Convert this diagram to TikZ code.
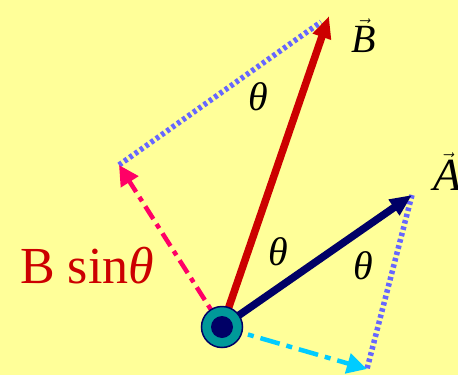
\documentclass[tikz,border=0pt]{standalone}
\usepackage{fontspec}
\setmainfont{Liberation Serif}
\usetikzlibrary{arrows.meta, positioning}
\definecolor{paleyellow}{RGB}{255, 255, 153}
\definecolor{vecred}{RGB}{204, 0, 0}
\definecolor{vecnavy}{RGB}{0, 0, 102}
\definecolor{projpink}{RGB}{255, 0, 102}
\definecolor{projcyan}{RGB}{0, 204, 255}
\definecolor{dotblue}{RGB}{102, 102, 255}
\definecolor{axisteal}{RGB}{0, 153, 153}

\tikzset{
  vecline/.style={line width=7.5pt, -{Triangle[length=22pt, width=18pt]}},
  projline/.style={line width=4.5pt, -{Triangle[length=20pt, width=20pt]}},
  dotline/.style={dotblue, line width=5.5pt, dash pattern=on 3.5pt off 3pt},
  anglabel/.style={font=\fontsize{40}{40}\selectfont\itshape},
}

\begin{document}
\begin{tikzpicture}[x=1pt, y=-1pt]
  % 背景与画幅 458x375
  \fill[paleyellow] (0, 0) rectangle (458, 375);
  \useasboundingbox (0, 0) rectangle (458, 375);

  % 关键点
  \coordinate (O) at (222, 327);
  \coordinate (Btip) at (329, 16);
  \coordinate (Atip) at (412, 195);
  \coordinate (Bperp) at (119, 165);
  \coordinate (Apar) at (367, 369);

  % 虚线投影框
  \draw[dotline] (Bperp) -- (321, 22);
  \draw[dotline] (Atip) -- (Apar);

  % 投影分量
  \draw[projline, projpink, dash pattern=on 15pt off 6pt on 5pt off 6pt] (O) -- (Bperp);
  \draw[projline, projcyan, dash pattern=on 20pt off 7pt on 6pt off 7pt] (O) -- (Apar);

  % 矢量 A、B
  \draw[vecline, vecred] (O) -- (Btip);
  \draw[vecline, vecnavy] (O) -- (Atip);

  % 转轴
  \node[circle, fill=axisteal, draw=vecnavy, line width=1.5pt, minimum size=41pt, inner sep=0pt] (axis) at (O) {};
  \node[circle, fill=vecnavy, minimum size=22pt, inner sep=0pt] (axiscore) at (O) {};

  % 标注
  \node[anglabel] (thtop) at (258, 97) {θ};
  \node[anglabel] (thmid) at (278, 252) {θ};
  \node[anglabel] (thright) at (363, 266) {θ};
  \node[vecred, anchor=base west, inner sep=0pt, font=\fontsize{52}{52}\selectfont] (bsin) at (20, 283) {B sin\textit{θ}};
  \node[anchor=base west, inner sep=0pt, font=\fontsize{40}{40}\selectfont] (labB) at (351, 52) {$\vec{\textit{B}}$};
  \node[anchor=base west, inner sep=0pt, font=\fontsize{46}{46}\selectfont] (labA) at (433, 190) {$\vec{\textit{A}}$};
\end{tikzpicture}
\end{document}
